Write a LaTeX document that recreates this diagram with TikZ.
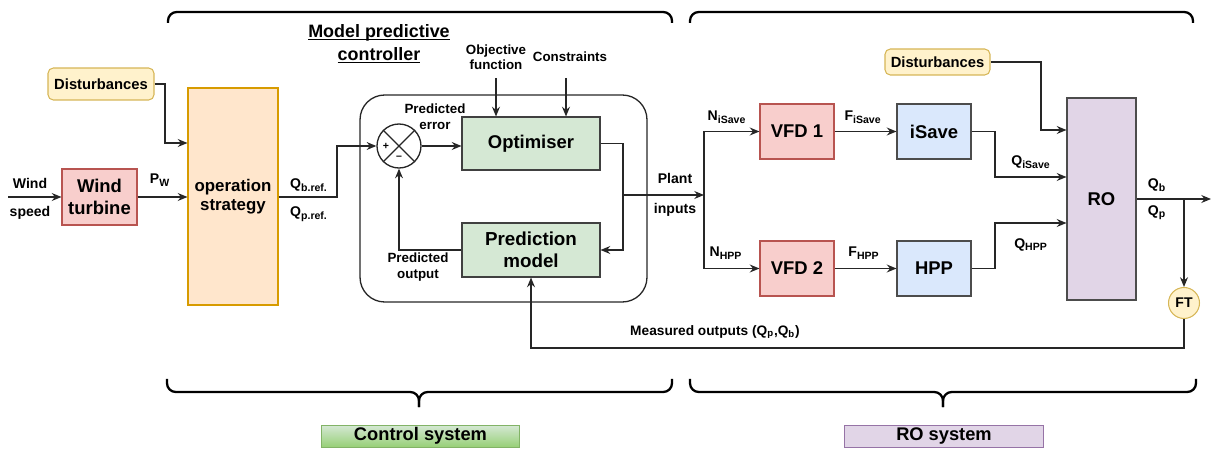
\documentclass[tikz,border=0pt]{standalone}
\usepackage{fontspec}
\setmainfont{Liberation Sans}
\usetikzlibrary{arrows.meta}
\definecolor{distfill}{HTML}{FFF2CC}
\definecolor{distdraw}{HTML}{D6B656}
\definecolor{redfill}{HTML}{F8CECC}
\definecolor{reddraw}{HTML}{B85450}
\definecolor{orfill}{HTML}{FFE6CC}
\definecolor{ordraw}{HTML}{D79B00}
\definecolor{grfill}{HTML}{D5E8D4}
\definecolor{grdraw}{HTML}{82B366}
\definecolor{grdark}{HTML}{97D077}
\definecolor{blfill}{HTML}{DAE8FC}
\definecolor{bldraw}{HTML}{6C8EBF}
\definecolor{pufill}{HTML}{E1D5E7}
\definecolor{pudraw}{HTML}{9673A6}
\newcommand{\titleline}[1]{\underline{\smash{#1}}}
\tikzset{
	blk/.style={draw, line width=0.6pt, inner sep=0pt, align=center, font=\bfseries\fontsize{10.5}{12.5}\selectfont},
	redblk/.style={blk, fill=redfill, draw=reddraw, minimum width=1.48cm, minimum height=1.1cm},
	blblk/.style={blk, fill=blfill, draw=black!70, minimum width=1.48cm, minimum height=1.1cm},
	grblk/.style={blk, fill=grfill, draw=black!75, minimum width=2.76cm, minimum height=1.06cm},
	distbox/.style={blk, fill=distfill, draw=distdraw, rounded corners=3pt, font=\bfseries\fontsize{8.4}{10}\selectfont},
	wire/.style={draw=black!85, line width=0.75pt},
	flow/.style={wire, -{Stealth[length=5.5pt,width=4.5pt]}},
	lbl/.style={inner sep=0pt, align=center, font=\bfseries\fontsize{8}{9.5}\selectfont},
	smlbl/.style={inner sep=0pt, align=center, font=\bfseries\fontsize{7.6}{8.8}\selectfont},
	brace/.style={line width=1.3pt, rounded corners=5pt},
	sysbox/.style={draw, inner sep=0pt, minimum width=3.97cm, minimum height=0.44cm, font=\bfseries\fontsize{10.4}{12}\selectfont},
}
\begin{document}
\begin{tikzpicture}[x=0.02cm,y=-0.02cm]
	\useasboundingbox (0,0) rectangle (1211,449);
	\draw[brace] (168,23) -- (168,12) -- (672,12) -- (672,23);
	\draw[brace] (690,23) -- (690,12) -- (1193,12) -- (1193,23);
	\draw[brace] (167,379) |- (419,392) -- (419,407);
	\draw[brace] (419,407) -- (419,392) -| (672,379);
	\draw[brace] (690,379) |- (943,392) -- (943,407);
	\draw[brace] (943,407) -- (943,392) -| (1196,379);
	\node[distbox, minimum width=2.12cm, minimum height=0.64cm] (dist1) at (101,84) {Disturbances};
	\node[redblk, minimum width=1.5cm, minimum height=1.12cm] (turb) at (99.5,197) {Wind\\turbine};
	\node[blk, fill=orfill, draw=ordraw, minimum width=1.8cm, minimum height=4.34cm, font=\bfseries\fontsize{9.6}{11}\selectfont] (ops) at (233,196.5) {operation\\strategy};
	\node[draw=black!85, line width=0.75pt, rounded corners=14pt, minimum width=5.74cm, minimum height=4.14cm] (mpc) at (503.5,198.5) {};
	\node[circle, draw=black!85, line width=0.75pt, fill=white, minimum size=0.88cm, inner sep=0pt] (sum) at (399,146) {};
	\draw[wire] (sum.north west) -- (sum.south east);
	\draw[wire] (sum.north east) -- (sum.south west);
	\node[inner sep=0pt, font=\bfseries\fontsize{6}{6}\selectfont] (plus) at (386,146) {+};
	\node[inner sep=0pt, font=\bfseries\fontsize{6}{6}\selectfont] (minus) at (399,158) {--};
	\node[grblk] (opt) at (531,143.5) {Optimiser};
	\node[grblk, minimum height=1.08cm, font=\bfseries\fontsize{10.7}{12.8}\selectfont] (pred) at (531,250) {Prediction\\model};
	\node[redblk] (vfd1) at (797,131.5) {VFD 1};
	\node[redblk] (vfd2) at (797,268.5) {VFD 2};
	\node[blblk] (isave) at (934,131.5) {iSave};
	\node[blblk] (hpp) at (934,268.5) {HPP};
	\node[blk, fill=pufill, draw=black!70, minimum width=1.38cm, minimum height=4.04cm] (ro) at (1101.5,199) {RO};
	\node[distbox, minimum width=2.1cm, minimum height=0.52cm] (dist2) at (937.5,62) {Disturbances};
	\node[circle, fill=distfill, draw=distdraw, line width=0.6pt, minimum size=0.62cm, inner sep=0pt, font=\bfseries\fontsize{8}{9}\selectfont] (ft) at (1184,303) {FT};
	\node[sysbox, top color=grfill, bottom color=grdark, draw=grdraw] (ctrlsys) at (420.5,436) {Control system};
	\node[sysbox, fill=pufill, draw=pudraw] (rosys) at (944,436) {RO system};
	\node[lbl] (wind) at (30,183) {Wind};
	\node[lbl] (speed) at (30,213) {speed};
	\node[lbl] (pw) at (160,180) {P\textsubscript{W}};
	\node[lbl] (qbref) at (309,185) {Q\textsubscript{b.ref.}};
	\node[lbl] (qpref) at (309,214) {Q\textsubscript{p.ref.}};
	\node[inner sep=0pt, align=center, font=\bfseries\fontsize{10.2}{13}\selectfont] (mpctitle) at (379,50.5) {\titleline{Model predictive}\\\titleline{controller}};
	\node[smlbl] (objlbl) at (496,57) {Objective\\function};
	\node[smlbl] (conslbl) at (570,57) {Constraints};
	\node[smlbl] (errlbl) at (435,116.5) {Predicted\\error};
	\node[smlbl] (outlbl) at (418,267) {Predicted\\output};
	\node[lbl] (plant) at (675,178) {Plant};
	\node[lbl] (inputs) at (675,210) {inputs};
	\node[lbl] (nisave) at (727,117) {N\textsubscript{iSave}};
	\node[lbl] (fisave) at (863,117) {F\textsubscript{iSave}};
	\node[lbl] (qisave) at (1031,162) {Q\textsubscript{iSave}};
	\node[lbl] (nhpp) at (726,253) {N\textsubscript{HPP}};
	\node[lbl] (fhpp) at (864,253) {F\textsubscript{HPP}};
	\node[lbl] (qhpp) at (1031,245) {Q\textsubscript{HPP}};
	\node[lbl] (qb) at (1157,185) {Q\textsubscript{b}};
	\node[lbl] (qp) at (1157,213) {Q\textsubscript{p}};
	\node[lbl, font=\bfseries\fontsize{7.8}{9}\selectfont] (measlbl) at (715,332) {Measured outputs (Q\textsubscript{p},Q\textsubscript{b})};
	\coordinate (windin) at (8,197);
	\coordinate (d1) at (165,143);
	\coordinate (q) at (337,197);
	\coordinate (oc) at (623,195);
	\coordinate (br) at (704,195);
	\coordinate (is) at (995,177);
	\coordinate (hp) at (995,223);
	\coordinate (dd) at (1041,130);
	\coordinate (ob) at (1184,199);
	\coordinate (outend) at (1211,199);
	\coordinate (meas) at (531,348);
	\coordinate (objtop) at (496,78);
	\coordinate (constop) at (566,78);
	\draw[flow] (windin) -- (turb.west);
	\draw[flow] (turb.east) -- (turb.east -| ops.west);
	\draw[flow] (dist1.east) -| (d1) -- (d1 -| ops.west);
	\draw[flow] (q -| ops.east) -- (q) |- (sum.west);
	\draw[flow] (sum.east) -- (sum.east -| opt.west);
	\draw[flow] (objtop) -- (objtop |- opt.north);
	\draw[flow] (constop) -- (constop |- opt.north);
	\draw[flow] (opt.east) -| (oc) |- (pred.east);
	\draw[flow] (pred.west) -| (sum.south);
	\draw[flow] (oc) -- (br);
	\draw[flow] (br) |- (vfd1.west);
	\draw[flow] (br) |- (vfd2.west);
	\draw[flow] (vfd1) -- (isave);
	\draw[flow] (vfd2) -- (hpp);
	\draw[flow] (isave.east) -| (is) -- (is -| ro.west);
	\draw[flow] (hpp.east) -| (hp) -- (hp -| ro.west);
	\draw[flow] (dist2.east) -| (dd) -- (dd -| ro.west);
	\draw[flow] (ro.east) -- (outend);
	\draw[flow] (ob) -- (ft.north);
	\draw[flow] (ft.south) |- (meas) -- (pred.south);
\end{tikzpicture}
\end{document}
